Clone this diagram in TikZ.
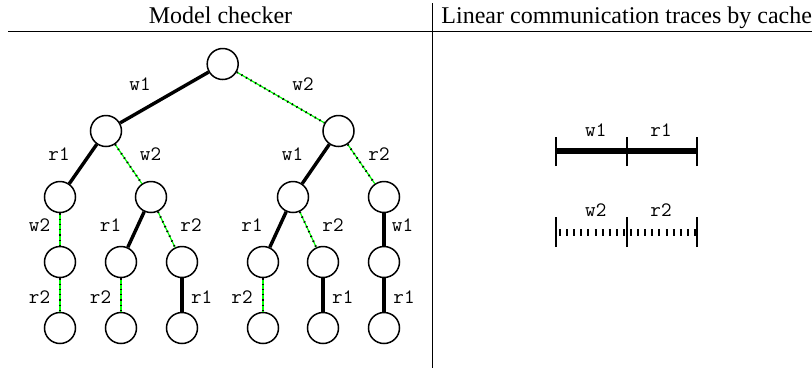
\documentclass[tikz,border=0pt]{standalone}
\usepackage{fontspec}
\setmainfont{Liberation Serif}
\begin{document}
\begin{tikzpicture}[x=1pt,y=-1pt,
  st/.style={circle,draw,line width=1.5pt,minimum size=31pt,inner sep=0pt,fill=white},
  solidedge/.style={line width=3.4pt},
  greenedge/.style={draw=green,line width=1.2pt,postaction={draw=black,line width=2pt,dash pattern=on 1.3pt off 4pt}},
  lbl/.style={font=\fontsize{20.5}{20.5}\selectfont\ttfamily,anchor=base,inner sep=0pt},
  hdr/.style={font=\fontsize{24}{24}\selectfont,anchor=base,inner sep=0pt},
  tick/.style={line width=1.6pt}]
\useasboundingbox (0,0) rectangle (812,368);
% header
\node[hdr] (h1) at (220.5,23) {Model checker};
\node[hdr] (h2) at (626.7,23) {Linear communication traces by cache};
\coordinate (hl) at (8,31.7);
\coordinate (hr) at (812,31.7);
\coordinate (vt) at (432.7,3);
\coordinate (vb) at (432.7,368);
\draw[line width=1pt] (hl) -- (hr);
\draw[line width=0.8pt] (vt) -- (vb);
% tree nodes
\node[st] (n0) at (222.7,64) {};
\node[st] (n1) at (106,131) {};
\node[st] (n2) at (338.5,131) {};
\node[st] (n3) at (60,197) {};
\node[st] (n4) at (151,197) {};
\node[st] (n5) at (293,197) {};
\node[st] (n6) at (384,197) {};
\node[st] (n7) at (60,262) {};
\node[st] (n8) at (121,262) {};
\node[st] (n9) at (182,262) {};
\node[st] (n10) at (263,262) {};
\node[st] (n11) at (323,262) {};
\node[st] (n12) at (384,262) {};
\node[st] (n13) at (60,328) {};
\node[st] (n14) at (121,328) {};
\node[st] (n15) at (182,328) {};
\node[st] (n16) at (263,328) {};
\node[st] (n17) at (323,328) {};
\node[st] (n18) at (384,328) {};
% edges
\draw[solidedge] (n0) -- (n1);
\draw[greenedge] (n0) -- (n2);
\draw[solidedge] (n1) -- (n3);
\draw[greenedge] (n1) -- (n4);
\draw[solidedge] (n2) -- (n5);
\draw[greenedge] (n2) -- (n6);
\draw[greenedge] (n3) -- (n7);
\draw[solidedge] (n4) -- (n8);
\draw[greenedge] (n4) -- (n9);
\draw[solidedge] (n5) -- (n10);
\draw[greenedge] (n5) -- (n11);
\draw[solidedge] (n6) -- (n12);
\draw[greenedge] (n7) -- (n13);
\draw[greenedge] (n8) -- (n14);
\draw[solidedge] (n9) -- (n15);
\draw[greenedge] (n10) -- (n16);
\draw[solidedge] (n11) -- (n17);
\draw[solidedge] (n12) -- (n18);
% edge labels
\node[lbl] (l1) at (140,90) {w1};
\node[lbl] (l2) at (303,90) {w2};
\node[lbl] (l3) at (59,160) {r1};
\node[lbl] (l4) at (150.5,160) {w2};
\node[lbl] (l5) at (292.5,160) {w1};
\node[lbl] (l6) at (379,160) {r2};
\node[lbl] (l7) at (39.5,231.7) {w2};
\node[lbl] (l8) at (110.5,231.7) {r1};
\node[lbl] (l9) at (191,231.7) {r2};
\node[lbl] (l10) at (252,231.7) {r1};
\node[lbl] (l11) at (333,231.7) {r2};
\node[lbl] (l12) at (402.5,231.7) {w1};
\node[lbl] (l13) at (39.5,303.3) {r2};
\node[lbl] (l14) at (100.5,303.3) {r2};
\node[lbl] (l15) at (201.7,303.3) {r1};
\node[lbl] (l16) at (242,303.3) {r2};
\node[lbl] (l17) at (342.8,303.3) {r1};
\node[lbl] (l18) at (404,303.3) {r1};
% traces
\coordinate (a1) at (556,151);
\coordinate (a2) at (627,151);
\coordinate (a3) at (697,151);
\draw[line width=6.5pt] (a1) -- (a3);
\foreach \c in {a1,a2,a3} \draw[tick] ([yshift=-15pt]\c) -- ([yshift=14pt]\c);
\node[lbl] (t1) at (595.8,136.5) {w1};
\node[lbl] (t2) at (661,136.5) {r1};
\coordinate (b1) at (556,232);
\coordinate (b2) at (627,232);
\coordinate (b3) at (697,232);
\draw[line width=7pt,dash pattern=on 2pt off 5.1pt,dash phase=-3pt] (b1) -- (b2);
\draw[line width=7pt,dash pattern=on 2pt off 5.1pt,dash phase=-3pt] (b2) -- (b3);
\foreach \c in {b1,b2,b3} \draw[tick] ([yshift=-15pt]\c) -- ([yshift=15pt]\c);
\node[lbl] (t3) at (595.8,216.7) {w2};
\node[lbl] (t4) at (661,216.7) {r2};
\end{tikzpicture}
\end{document}
